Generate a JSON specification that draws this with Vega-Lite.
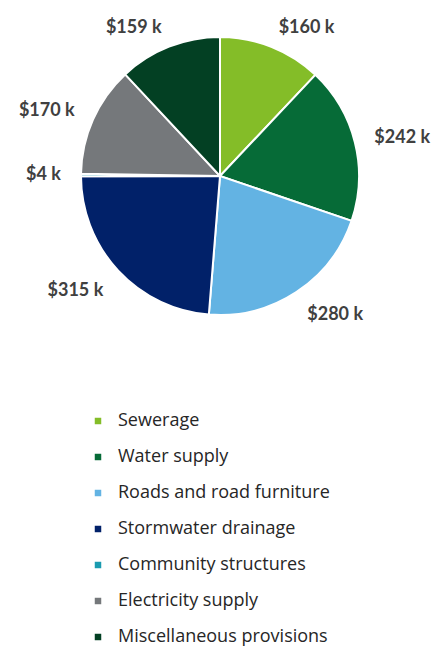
{
  "$schema": "https://vega.github.io/schema/vega-lite/v6.json",
  "width": 432,
  "height": 352,
  "padding": {"left": 4, "top": 0, "right": 0, "bottom": 0},
  "background": "white",
  "view": {"stroke": null},
  "data": {
    "values": [
      {"category": "Sewerage", "value": 160, "label": "$160 k", "order": 1},
      {"category": "Water supply", "value": 242, "label": "$242 k", "order": 2},
      {"category": "Roads and road furniture", "value": 280, "label": "$280 k", "order": 3},
      {"category": "Stormwater drainage", "value": 315, "label": "$315 k", "order": 4},
      {"category": "Community structures", "value": 4, "label": "$4 k", "order": 5},
      {"category": "Electricity supply", "value": 170, "label": "$170 k", "order": 6},
      {"category": "Miscellaneous provisions", "value": 159, "label": "$159 k", "order": 7}
    ]
  },
  "encoding": {
    "theta": {"field": "value", "type": "quantitative", "stack": true},
    "order": {"field": "order", "type": "quantitative"},
    "color": {
      "field": "category",
      "type": "nominal",
      "sort": null,
      "scale": {
        "domain": ["Sewerage", "Water supply", "Roads and road furniture", "Stormwater drainage", "Community structures", "Electricity supply", "Miscellaneous provisions"],
        "range": ["#84bd28", "#066b37", "#63b3e3", "#012169", "#1a9bb0", "#75787b", "#034023"]
      },
      "legend": {
        "orient": "none",
        "legendX": 85,
        "legendY": 412,
        "title": null,
        "symbolType": "square",
        "symbolSize": 42,
        "symbolStrokeWidth": 0,
        "labelFont": "Open Sans",
        "labelFontSize": 18,
        "labelColor": "#262626",
        "labelOffset": 11,
        "labelLimit": 0,
        "rowPadding": 18
      }
    }
  },
  "layer": [
    {
      "mark": {"type": "arc", "outerRadius": 139, "stroke": "white", "strokeWidth": 2}
    },
    {
      "mark": {"type": "text", "radius": 159, "align": "left", "baseline": "middle", "font": "Lato", "fontWeight": "bold", "fontSize": 18},
      "encoding": {
        "text": {"condition": {"test": "datum.order <= 2", "field": "label"}, "value": ""},
        "color": {"value": "#404040"}
      }
    },
    {
      "mark": {"type": "text", "radius": 159, "align": "left", "baseline": "middle", "dy": 6, "font": "Lato", "fontWeight": "bold", "fontSize": 18},
      "encoding": {
        "text": {"condition": {"test": "datum.order == 3", "field": "label"}, "value": ""},
        "color": {"value": "#404040"}
      }
    },
    {
      "mark": {"type": "text", "radius": 159, "align": "right", "baseline": "middle", "dy": 7, "font": "Lato", "fontWeight": "bold", "fontSize": 18},
      "encoding": {
        "text": {"condition": {"test": "datum.order == 4", "field": "label"}, "value": ""},
        "color": {"value": "#404040"}
      }
    },
    {
      "mark": {"type": "text", "radius": 159, "align": "right", "baseline": "middle", "font": "Lato", "fontWeight": "bold", "fontSize": 18},
      "encoding": {
        "text": {"condition": {"test": "datum.order >= 5", "field": "label"}, "value": ""},
        "color": {"value": "#404040"}
      }
    }
  ]
}
